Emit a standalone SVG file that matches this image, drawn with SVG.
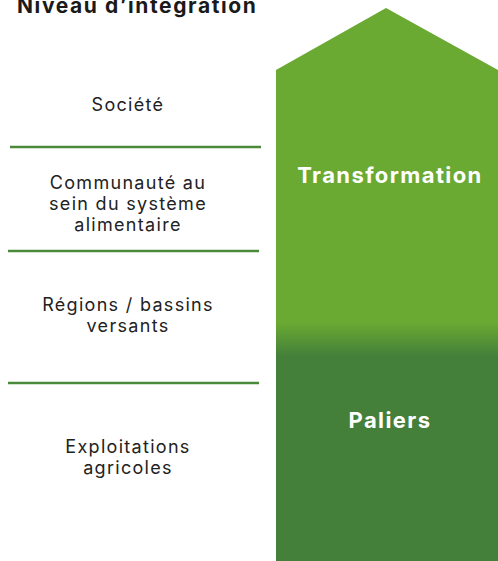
<svg xmlns="http://www.w3.org/2000/svg" width="498" height="561" viewBox="0 0 498 561">
<style>
.lbl{font-family:Inter,"Liberation Sans",sans-serif;font-size:18px;letter-spacing:1.3px;fill:#222;text-anchor:middle}
.big{font-family:Inter,"Liberation Sans",sans-serif;font-size:22px;letter-spacing:1.4px;font-weight:bold;fill:#fff;text-anchor:middle}
.sep{stroke:#4a8a3a;stroke-width:2.5}
</style>
<defs>
<linearGradient id="g" x1="0" y1="0" x2="0" y2="561" gradientUnits="userSpaceOnUse">
<stop offset="0" stop-color="#6aa932"/>
<stop offset="0.575" stop-color="#6aa932"/>
<stop offset="0.635" stop-color="#44803a"/>
<stop offset="1" stop-color="#44803a"/>
</linearGradient>
</defs>
<text x="17" y="13" font-family="Inter,'Liberation Sans',sans-serif" font-size="21" letter-spacing="1.6" font-weight="bold" fill="#1a1a1a">Niveau d’intégration</text>
<g id="arrow">
<polygon points="276,70 386,8 498,70 498,561 276,561" fill="url(#g)"/>
<text class="big" x="390" y="183">Transformation</text>
<text class="big" x="390" y="428">Paliers</text>
</g>
<g id="connectors">
<line class="sep" x1="10" y1="147" x2="261" y2="147"/>
<line class="sep" x1="8" y1="251" x2="259" y2="251"/>
<line class="sep" x1="8" y1="383" x2="259" y2="383"/>
</g>
<g id="societe"><text class="lbl" x="128" y="111">Société</text></g>
<g id="communaute">
<text class="lbl" x="128" y="189">Communauté au</text>
<text class="lbl" x="128" y="210">sein du système</text>
<text class="lbl" x="128" y="231">alimentaire</text>
</g>
<g id="regions">
<text class="lbl" x="128" y="311">Régions / bassins</text>
<text class="lbl" x="128" y="332">versants</text>
</g>
<g id="exploitations">
<text class="lbl" x="128" y="453">Exploitations</text>
<text class="lbl" x="128" y="474">agricoles</text>
</g>
</svg>
